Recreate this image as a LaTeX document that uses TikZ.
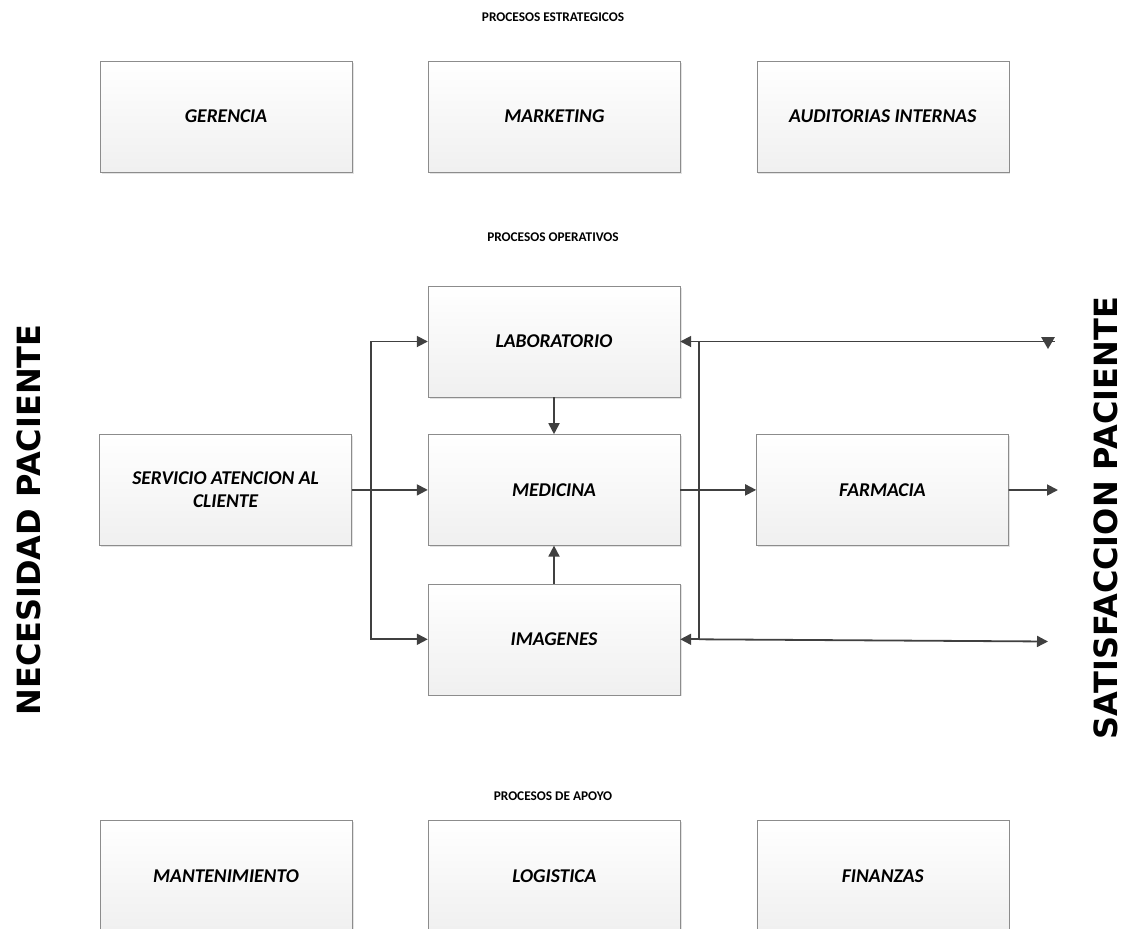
\documentclass[tikz,border=0pt]{standalone}
\usepackage{fontspec}
\setmainfont{Carlito}
\newfontfamily\heavyfont{DejaVu Sans}
\usetikzlibrary{positioning,arrows.meta,shadows,shapes.geometric}

\tikzstyle{proc}=[draw=black!45,rectangle,minimum width=252pt,minimum height=111pt,top color=white,bottom color=black!6,drop shadow={shadow xshift=1.5pt,shadow yshift=-1.5pt,fill=black!22},font=\fontsize{19.5}{23}\selectfont\bfseries\itshape,align=center]
\tikzstyle{flow}=[draw=black!75,line width=1.8pt,-{Triangle[length=11pt,width=11pt]}]
\tikzstyle{titulo}=[font=\fontsize{13.3}{16}\selectfont\bfseries]
\tikzstyle{lado}=[font=\heavyfont\fontsize{32}{34}\selectfont\bfseries,rotate=90]

\begin{document}
\begin{tikzpicture}[x=1pt,y=-1pt]

\useasboundingbox (0,0) rectangle (1125,929);

% procesos estrategicos
\node[titulo] (tEst) at (553,17) {PROCESOS ESTRATEGICOS};
\node[proc] (ger) at (226,116.5) {GERENCIA};
\node[proc,right=76pt of ger] (mkt) {MARKETING};
\node[proc,right=76pt of mkt] (aud) {AUDITORIAS INTERNAS};

% procesos operativos
\node[titulo] (tOp) at (553,237) {PROCESOS OPERATIVOS};
\node[proc] (lab) at (554,341.5) {LABORATORIO};
\node[proc,below=37pt of lab] (med) {MEDICINA};
\node[proc,below=38pt of med] (img) {IMAGENES};
\node[proc,left=76pt of med] (serv) {SERVICIO ATENCION AL\\CLIENTE};
\node[proc,right=76pt of med] (farm) {FARMACIA};

\node[lado] (nec) at (29,520) {NECESIDAD PACIENTE};
\node[lado] (sat) at (1106,518) {SATISFACCION PACIENTE};

% procesos de apoyo
\node[titulo] (tApo) at (553,796) {PROCESOS DE APOYO};
\node[proc] (mant) at (226,876) {MANTENIMIENTO};
\node[proc,right=76pt of mant] (log) {LOGISTICA};
\node[proc,right=76pt of log] (fin) {FINANZAS};

\coordinate (bifIzq) at (371,490);
\coordinate (bifDer) at (699,490);
\coordinate (salLab) at (1055,341.5);
\coordinate (salFar) at (1058,490);
\coordinate (salImg) at (1048,641.5);

\draw[flow] (serv) -- (med);
\draw[flow] (bifIzq) |- (lab.west);
\draw[flow] (bifIzq) |- (img.west);
\draw[flow] (lab) -- (med);
\draw[flow] (img) -- (med);
\draw[flow] (med) -- (farm);
\draw[flow] (farm) -- (salFar);
\draw[flow] (bifDer) |- (lab.east);
\draw[flow] (bifDer) |- (img.east);
\draw[flow,-] (bifDer |- lab.east) -- (salLab);
\node[fill=black!75,regular polygon,regular polygon sides=3,shape border rotate=180,inner sep=0pt,minimum size=16pt] (puntaLab) at (1048,341) {};
\draw[flow] (bifDer |- img.east) -- (salImg);

\end{tikzpicture}
\end{document}
